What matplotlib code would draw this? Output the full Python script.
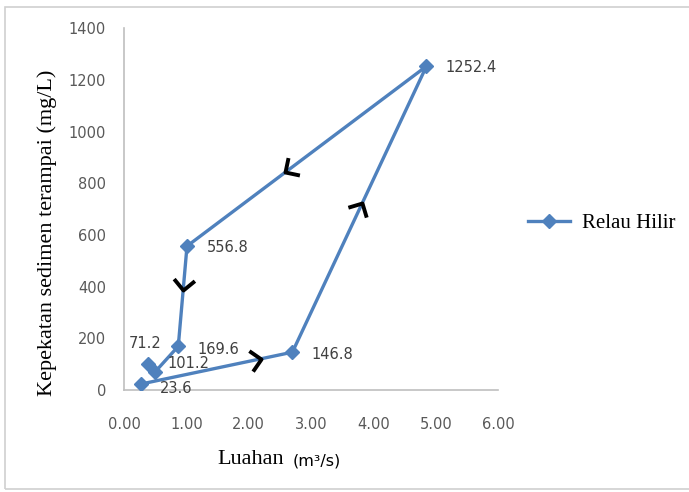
import matplotlib
matplotlib.use('Agg')
import matplotlib.pyplot as plt
import numpy as np
from matplotlib.path import Path
from matplotlib.markers import MarkerStyle
from matplotlib.transforms import Affine2D
from matplotlib.patches import Rectangle

luahan = [0.27, 2.70, 4.85, 1.01, 0.87, 0.50, 0.39]
kepekatan = [23.6, 146.8, 1252.4, 556.8, 169.6, 71.2, 101.2]
label_text = ['23.6', '146.8', '1252.4', '556.8', '169.6', '71.2', '101.2']

# where the hand drawn arrows sit: segment index and fraction along it
arrow_seg = [0, 1, 2, 3]
arrow_frac = [0.79, 0.52, 0.59, 0.44]

# label offsets in points (Excel labels, one was dragged by hand)
label_dx = [14, 14, 14, 14, 14, -19, 14]
label_dy = [-3, -2, -1, -1, -2, 20, 0]

blue = '#4F81BD'
grey = '#595959'

fig = plt.figure(figsize=(6.89, 4.92), dpi=100)
ax = fig.add_axes([0.18, 0.207, 0.543, 0.736])

ax.plot(luahan, kepekatan, color=blue, lw=2.4, marker='D', ms=7,
        mec=blue, mfc=blue, label='Relau Hilir', zorder=3)

for i in range(len(luahan)):
    ax.annotate(label_text[i], (luahan[i], kepekatan[i]),
                xytext=(label_dx[i], label_dy[i]), textcoords='offset points',
                fontsize=10.5, color='#404040', va='center', ha='left',
                family='DejaVu Sans')

# chevrons drawn along the loop
fig.canvas.draw()
chev = Path([(-1, 1), (0, 0), (-1, -1)], [Path.MOVETO, Path.LINETO, Path.LINETO])
for s, t in zip(arrow_seg, arrow_frac):
    x0, y0 = luahan[s], kepekatan[s]
    x1, y1 = luahan[s + 1], kepekatan[s + 1]
    px = x0 + t * (x1 - x0)
    py = y0 + t * (y1 - y0)
    d0 = ax.transData.transform((x0, y0))
    d1 = ax.transData.transform((x1, y1))
    ang = np.degrees(np.arctan2(d1[1] - d0[1], d1[0] - d0[0]))
    m = MarkerStyle(chev, transform=Affine2D().rotate_deg(ang))
    ax.plot([px], [py], marker=m, ms=15, mew=2.8, mec='black', mfc='none',
            ls='none', zorder=4)

ax.set_xlim(0, 6)
ax.set_ylim(0, 1400)
ax.set_xticks(np.arange(0, 7, 1))
ax.set_xticklabels(['%.2f' % v for v in np.arange(0, 7, 1)])
ax.set_yticks(np.arange(0, 1600, 200))
ax.tick_params(length=0, labelsize=10.5, colors=grey)
ax.tick_params(axis='x', pad=19)
ax.tick_params(axis='y', pad=13)
for lab in ax.get_xticklabels() + ax.get_yticklabels():
    lab.set_family('DejaVu Sans')

for side in ['top', 'right']:
    ax.spines[side].set_visible(False)
for side in ['left', 'bottom']:
    ax.spines[side].set_color('#BFBFBF')
    ax.spines[side].set_linewidth(1.2)

ax.set_ylabel('Kepekatan sedimen terampai (mg/L)', family='Liberation Serif',
              fontsize=16, color='black')
ax.yaxis.set_label_coords(-0.18, 0.435)
fig.text(0.315, 0.066, 'Luahan', family='Liberation Serif', fontsize=16,
         ha='left', va='center')
fig.text(0.424, 0.064, '(m\u00b3/s)', family='DejaVu Sans', fontsize=11.5,
         ha='left', va='center')

leg = ax.legend(loc='center left', bbox_to_anchor=(1.03, 0.46), frameon=False,
                prop={'family': 'Liberation Serif', 'size': 15},
                handlelength=2.0, handletextpad=0.6)

fig.patches.append(Rectangle((0.007, 0.006), 1.2, 0.98, transform=fig.transFigure,
                             fill=False, ec='#D0D0D0', lw=1.2))

fig.savefig('out.png', dpi=100)
